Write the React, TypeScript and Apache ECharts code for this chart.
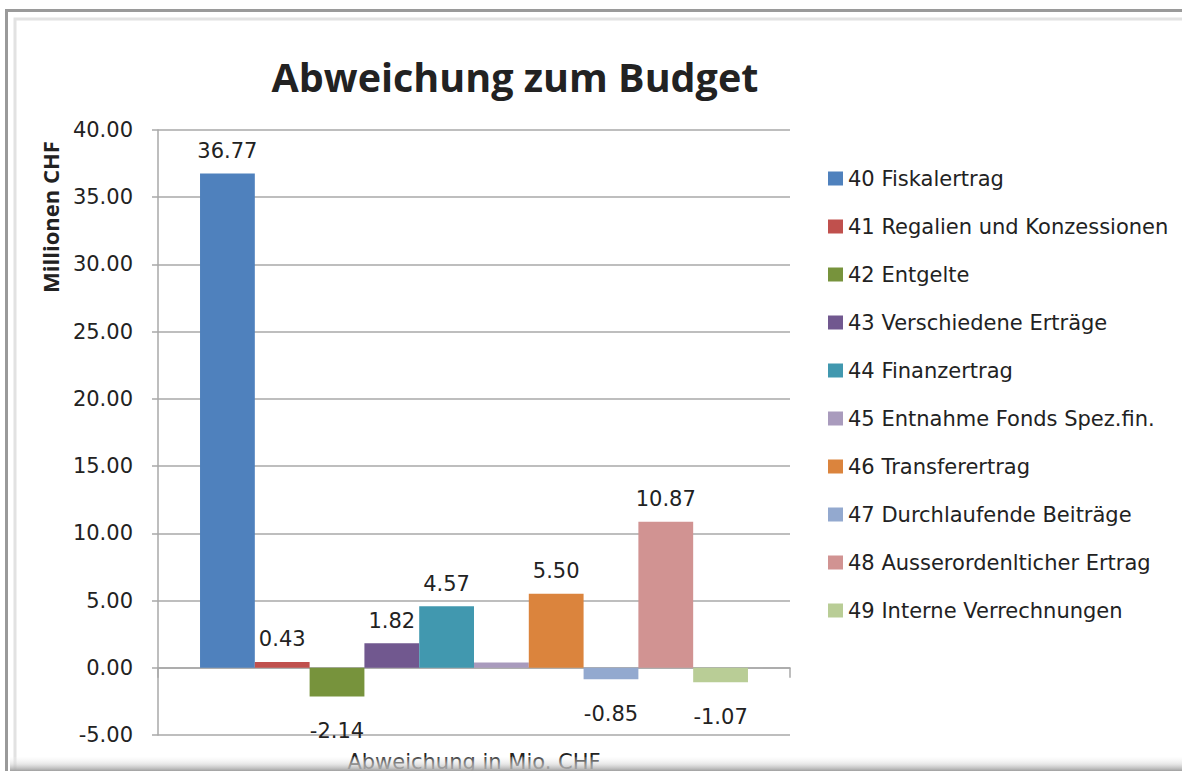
import React, { useEffect, useRef } from "react";
import * as echarts from "echarts";

const chartTitle = "Abweichung zum Budget";
const yAxisTitle = "Millionen CHF";
const categories = ["Abweichung in Mio. CHF"];
const seriesNames = [
  "40 Fiskalertrag",
  "41 Regalien und Konzessionen",
  "42 Entgelte",
  "43 Verschiedene Erträge",
  "44 Finanzertrag",
  "45 Entnahme Fonds Spez.fin.",
  "46 Transferertrag",
  "47 Durchlaufende Beiträge",
  "48 Ausserordenlticher Ertrag",
  "49 Interne Verrechnungen",
];
const seriesValues = [36.77, 0.43, -2.14, 1.82, 4.57, 0.4, 5.5, -0.85, 10.87, -1.07];
const labelVisible = [true, true, true, true, true, false, true, true, true, true];
const seriesColors = [
  "#4F81BD",
  "#C0504D",
  "#77933C",
  "#71588F",
  "#4198AF",
  "#A99BBD",
  "#DB843D",
  "#93A9CF",
  "#D19392",
  "#B9CD96",
];
const yMin = -5;
const yMax = 40;
const yStep = 5;

const TEXT = "#222222";
const GRID = "#A8A8A8";
const FONT = "DejaVu Sans";

export default function App() {
  const ref = useRef<HTMLDivElement>(null);
  useEffect(() => {
    if (!ref.current) return;
    const chart = echarts.init(ref.current, undefined, { renderer: "svg" });
    const series = seriesNames.map((name, i) => {
      const v = seriesValues[i];
      return {
        name,
        type: "bar",
        barGap: "0%",
        barCategoryGap: "13.3%",
        itemStyle: { color: seriesColors[i] },
        data: [
          {
            value: v,
            label: {
              show: labelVisible[i],
              position: v >= 0 ? "top" : "bottom",
              distance: v >= 0 ? 12 : 24,
              formatter: (p: any) => Number(p.value).toFixed(2),
              fontFamily: FONT,
              fontSize: 21,
              color: TEXT,
            },
          },
        ],
      };
    });
    chart.setOption({
      animation: false,
      backgroundColor: "#ffffff",
      title: {
        text: chartTitle,
        left: 510,
        top: 52,
        textAlign: "center",
        textStyle: {
          fontFamily: "Open Sans",
          fontWeight: "bold",
          fontSize: 39.5,
          color: TEXT,
        },
      },
      legend: {
        orient: "vertical",
        left: 823,
        top: 163,
        icon: "rect",
        itemWidth: 15,
        itemHeight: 14,
        itemGap: 27,
        selectedMode: false,
        textStyle: {
          fontFamily: FONT,
          fontSize: 21,
          color: TEXT,
        },
        data: seriesNames,
      },
      grid: {
        left: 158,
        right: 392,
        top: 130,
        bottom: 36,
        containLabel: false,
        outerBoundsMode: "none",
      },
      xAxis: {
        type: "category",
        data: categories,
        axisLine: { show: true, onZero: true, lineStyle: { color: GRID, width: 1.5 } },
        axisTick: { show: true, length: 10, lineStyle: { color: GRID, width: 1.5 } },
        axisLabel: {
          show: true,
          margin: 16,
          fontFamily: FONT,
          fontSize: 21,
          lineHeight: 21,
          color: TEXT,
        },
        splitLine: { show: false },
      },
      yAxis: {
        type: "value",
        min: yMin,
        max: yMax,
        interval: yStep,
        axisLine: { show: true, lineStyle: { color: GRID, width: 1.5 } },
        axisTick: { show: true, length: 6, lineStyle: { color: GRID, width: 1.5 } },
        axisLabel: {
          margin: 25,
          fontFamily: FONT,
          fontSize: 21,
          color: TEXT,
          formatter: (v: number) => v.toFixed(2),
        },
        splitLine: { show: true, lineStyle: { color: GRID, width: 1.5 } },
      },
      graphic: [
        {
          type: "text",
          x: 50,
          y: 217,
          rotation: Math.PI / 2,
          style: {
            text: yAxisTitle,
            fontFamily: "Open Sans",
            fontWeight: "bold",
            fontSize: 22,
            fill: TEXT,
            align: "center",
            verticalAlign: "middle",
          },
        },
        {
          type: "rect",
          z: 100,
          shape: { x: 6.5, y: 10.5, width: 1200, height: 800 },
          style: { fill: "none", stroke: "#9A9A9A", lineWidth: 3 },
        },
        {
          type: "rect",
          z: 100,
          shape: { x: 15, y: 19, width: 1200, height: 800 },
          style: { fill: "none", stroke: "#E2E2E2", lineWidth: 3 },
        },
        {
          type: "rect",
          z: 101,
          shape: { x: 10, y: 757, width: 1180, height: 14 },
          style: {
            fill: new echarts.graphic.LinearGradient(0, 0, 0, 1, [
              { offset: 0, color: "rgba(245,245,245,0.15)" },
              { offset: 0.5, color: "rgba(215,215,215,0.6)" },
              { offset: 1, color: "rgba(160,160,160,1)" },
            ]),
          },
        },
      ],
      series,
    });
    return () => chart.dispose();
  }, []);
  return (
    <div
      ref={ref}
      style={{ position: "absolute", left: 0, top: 0, width: 1182, height: 771 }}
    />
  );
}
